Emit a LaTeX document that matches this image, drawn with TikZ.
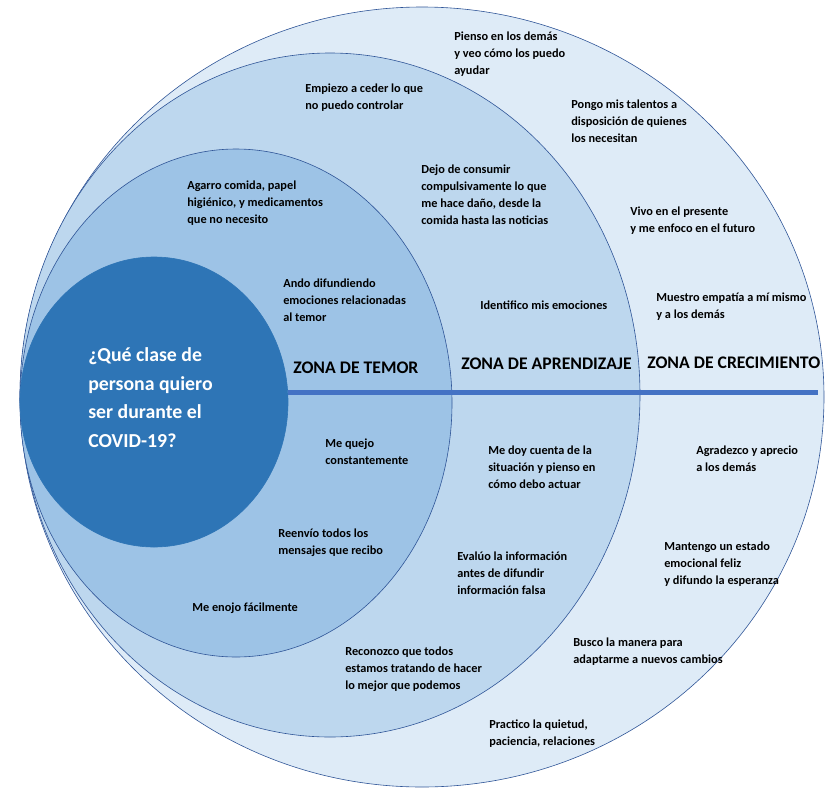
\documentclass[tikz,border=0pt]{standalone}
\usepackage{fontspec}
\setmainfont{Carlito}

\definecolor{crecfill}{HTML}{DEEBF7}
\definecolor{aprefill}{HTML}{BDD7EE}
\definecolor{temorfill}{HTML}{9DC3E6}
\definecolor{centrofill}{HTML}{2E75B6}
\definecolor{borde}{HTML}{2F5597}
\definecolor{eje}{HTML}{4472C4}

\begin{document}
\begin{tikzpicture}[x=1pt,y=-1pt,line width=0.6pt,
  nota/.style={anchor=base west,align=left,inner sep=0pt,
    font=\fontsize{12.3}{17.3}\selectfont\bfseries},
  zona/.style={anchor=base west,inner sep=0pt,
    font=\fontsize{17.7}{20}\selectfont\bfseries}]
\useasboundingbox (0,0) rectangle (828,788);
\draw[fill=crecfill,draw=borde] (422,397) ellipse [x radius=402,y radius=390];
\draw[fill=aprefill,draw=borde] (330,395) ellipse [x radius=310,y radius=342];
\draw[fill=temorfill,draw=borde] (236,403) ellipse [x radius=216,y radius=254];
\draw[fill=centrofill,draw=centrofill] (154,402) ellipse [x radius=134,y radius=145];
\coordinate (ejeini) at (288,392);
\coordinate (ejefin) at (818,392);
\draw[eje,line width=5pt] (ejeini) -- (ejefin);
% anchor=base west: y is the baseline of the last line
\node[anchor=base west,align=left,inner sep=0pt,text=white,
  font=\fontsize{19.8}{28.5}\selectfont\bfseries] (pregunta) at (88,447)
  {¿Qué clase de\\persona quiero\\ser durante el\\COVID-19?};
\node[zona] (temor) at (293,373) {ZONA DE TEMOR};
\node[zona] (aprendizaje) at (461,369) {ZONA DE APRENDIZAJE};
\node[zona] (crecimiento) at (647,368) {ZONA DE CRECIMIENTO};
\node[nota] (agarro) at (187,223.6) {Agarro comida, papel\\higiénico, y medicamentos\\que no necesito};
\node[nota] (ando) at (283,321.6) {Ando difundiendo\\emociones relacionadas\\al temor};
\node[nota] (quejo) at (325,464.3) {Me quejo\\constantemente};
\node[nota] (reenvio) at (278,554.3) {Reenvío todos los\\mensajes que recibo};
\node[nota] (enojo) at (192,611) {Me enojo fácilmente};
\node[nota] (empiezo) at (305,109.3) {Empiezo a ceder lo que\\no puedo controlar};
\node[nota] (dejo) at (421,224.9) {Dejo de consumir\\compulsivamente lo que\\me hace daño, desde la\\comida hasta las noticias};
\node[nota] (identifico) at (480,309) {Identifico mis emociones};
\node[nota] (doycuenta) at (488,488.6) {Me doy cuenta de la\\situación y pienso en\\cómo debo actuar};
\node[nota] (evaluo) at (457,594.6) {Evalúo la información\\antes de difundir\\información falsa};
\node[nota] (reconozco) at (345,689.6) {Reconozco que todos\\estamos tratando de hacer\\lo mejor que podemos};
\node[nota] (pienso) at (454,74.6) {Pienso en los demás\\y veo cómo los puedo\\ayudar};
\node[nota] (pongo) at (571,142.6) {Pongo mis talentos a\\disposición de quienes\\los necesitan};
\node[nota] (vivo) at (630,232.3) {Vivo en el presente\\y me enfoco en el futuro};
\node[nota] (muestro) at (656,318.3) {Muestro empatía a mí mismo\\y a los demás};
\node[nota] (agradezco) at (696,471.3) {Agradezco y aprecio\\a los demás};
\node[nota] (mantengo) at (664,584.6) {Mantengo un estado\\emocional feliz\\y difundo la esperanza};
\node[nota] (busco) at (573,663.3) {Busco la manera para\\adaptarme a nuevos cambios};
\node[nota] (practico) at (489,745.3) {Practico la quietud,\\paciencia, relaciones};
\end{tikzpicture}
\end{document}
